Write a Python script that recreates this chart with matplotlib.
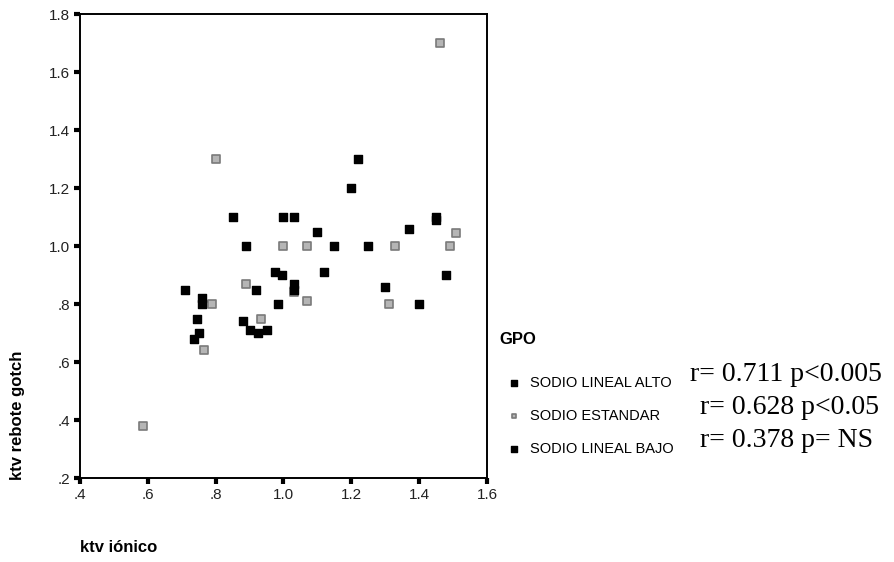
import matplotlib
matplotlib.use('Agg')
import matplotlib.pyplot as plt

# Datos (ktv ionico vs ktv rebote gotch)
alto_x = [0.85, 0.89, 1.00, 1.03, 1.10, 1.15, 1.20, 1.22, 1.25, 1.37, 1.45, 1.45, 1.48, 1.12, 1.30, 0.975]
alto_y = [1.10, 1.00, 1.10, 1.10, 1.05, 1.00, 1.20, 1.30, 1.00, 1.06, 1.10, 1.09, 0.90, 0.91, 0.86, 0.91]

bajo_x = [0.71, 0.76, 0.76, 0.745, 0.75, 0.735, 0.92, 0.88, 0.90, 0.925, 0.95, 0.995, 0.985, 1.03, 1.03, 1.40]
bajo_y = [0.85, 0.82, 0.80, 0.75, 0.70, 0.68, 0.85, 0.74, 0.71, 0.70, 0.71, 0.90, 0.80, 0.87, 0.85, 0.80]

est_x = [0.80, 1.00, 1.07, 1.33, 1.46, 1.51, 1.49, 0.79, 0.765, 0.585, 0.89, 0.935, 1.03, 1.07, 1.31]
est_y = [1.30, 1.00, 1.00, 1.00, 1.70, 1.045, 1.00, 0.80, 0.64, 0.38, 0.87, 0.75, 0.84, 0.81, 0.80]

grupos = ['SODIO LINEAL ALTO', 'SODIO ESTANDAR', 'SODIO LINEAL BAJO']
estadisticos = ['r= 0.711 p<0.005', 'r= 0.628 p<0.05', 'r= 0.378 p= NS']

xticks = [0.4, 0.6, 0.8, 1.0, 1.2, 1.4, 1.6]
xlabels = ['.4', '.6', '.8', '1.0', '1.2', '1.4', '1.6']
yticks = [0.2, 0.4, 0.6, 0.8, 1.0, 1.2, 1.4, 1.6, 1.8]
ylabels = ['.2', '.4', '.6', '.8', '1.0', '1.2', '1.4', '1.6', '1.8']

sans = ['Liberation Sans', 'DejaVu Sans']
serif = ['Liberation Serif', 'DejaVu Serif']

fig = plt.figure(figsize=(8.95, 5.62), dpi=100)
ax = fig.add_axes([80 / 895, 1 - 478 / 562, 407 / 895, 464 / 562])

ax.scatter(alto_x, alto_y, marker='s', s=40, color='black', label=grupos[0], zorder=3)
ax.scatter(est_x, est_y, marker='s', s=34, facecolor='#b5b5b5', edgecolor='#7a7a7a',
           linewidth=1.2, label=grupos[1], zorder=2)
ax.scatter(bajo_x, bajo_y, marker='s', s=40, color='black', label=grupos[2], zorder=3)

ax.set_xlim(0.4, 1.6)
ax.set_ylim(0.2, 1.8)
ax.set_xticks(xticks)
ax.set_xticklabels(xlabels, family=sans, fontsize=11, color='#222222')
ax.set_yticks(yticks)
ax.set_yticklabels(ylabels, family=sans, fontsize=11, color='#222222')
ax.tick_params(direction='out', length=4, width=3, pad=3, color='black')
for s in ax.spines.values():
    s.set_linewidth(1.4)

fig.text(18 / 895, 1 - 480 / 562, 'ktv rebote gotch', rotation=90, ha='center', va='bottom',
         family=sans, fontsize=12, fontweight='bold')
fig.text(80 / 895, 1 - 547 / 562, 'ktv iónico', ha='left', va='center',
         family=sans, fontsize=12, fontweight='bold')

# titulo de la leyenda
fig.text(499 / 895, 1 - 340 / 562, 'GPO', ha='left', va='center',
         family=sans, fontsize=12, fontweight='bold')

leg = ax.legend(loc='upper left', bbox_to_anchor=(492 / 895, 1 - 363 / 562),
                bbox_transform=fig.transFigure, frameon=False,
                prop={'family': sans, 'size': 10.5}, markerscale=0.6,
                handletextpad=0.5, labelspacing=1.3,
                handlelength=1.2)

rx = [690, 700, 700]
ry = [381, 414, 447]
for t, x, y in zip(estadisticos, rx, ry):
    fig.text(x / 895, 1 - y / 562, t, ha='left', va='baseline', family=serif, fontsize=20)

fig.savefig('out.png', dpi=100)
